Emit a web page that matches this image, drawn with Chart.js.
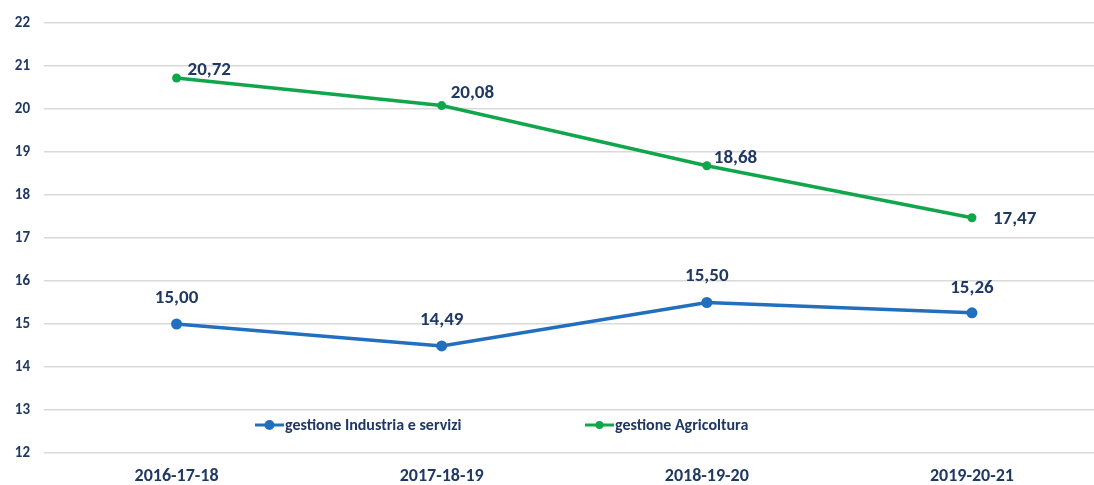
<!DOCTYPE html>
<html>
<head>
<meta charset="utf-8">
<script src="https://cdn.jsdelivr.net/npm/chart.js@4/dist/chart.umd.min.js"></script>
<style>
  html, body { margin: 0; padding: 0; background: #fff; overflow: hidden; }
  #wrap { width: 1110px; height: 485px; }
</style>
</head>
<body>
<div id="wrap"><canvas id="trend"></canvas></div>
<script>
const anni = ['2016-17-18', '2017-18-19', '2018-19-20', '2019-20-21'];
const industria = [15.00, 14.49, 15.50, 15.26];
const agricoltura = [20.72, 20.08, 18.68, 17.47];
const yTicks = [12, 13, 14, 15, 16, 17, 18, 19, 20, 21, 22];

const navy = '#1f3864';
const fontFam = "Carlito, 'Liberation Sans Narrow', Lato, sans-serif";
const fmt = (v) => v.toFixed(2).replace('.', ',');

// label placement per dataset: [dx, dy, align]
const labelPos = [
  [[0, -26, 'center'], [0, -26, 'center'], [0, -26, 'center'], [0, -25, 'center']],
  [[11, -8, 'left'], [9, -12, 'left'], [7, -8, 'left'], [21, 1, 'left']],
];

const pointLabels = {
  id: 'pointLabels',
  afterDatasetsDraw(chart) {
    const { ctx } = chart;
    ctx.save();
    ctx.font = `bold 19px ${fontFam}`;
    ctx.fillStyle = navy;
    ctx.textBaseline = 'middle';
    chart.data.datasets.forEach((ds, i) => {
      chart.getDatasetMeta(i).data.forEach((pt, j) => {
        const [dx, dy, align] = labelPos[i][j];
        ctx.textAlign = align;
        ctx.fillText(fmt(ds.data[j]), pt.x + dx, pt.y + dy);
      });
    });
    ctx.restore();
  },
};

const innerLegend = {
  id: 'innerLegend',
  afterDatasetsDraw(chart) {
    const { ctx } = chart;
    const y = 425;
    const starts = [255, 585];
    ctx.save();
    ctx.font = `bold 16px ${fontFam}`;
    ctx.textBaseline = 'middle';
    ctx.textAlign = 'left';
    chart.data.datasets.forEach((ds, i) => {
      const x = starts[i];
      ctx.strokeStyle = ds.borderColor;
      ctx.lineWidth = 3;
      ctx.beginPath();
      ctx.moveTo(x, y);
      ctx.lineTo(x + 29, y);
      ctx.stroke();
      ctx.fillStyle = ds.borderColor;
      ctx.beginPath();
      ctx.arc(x + 14.5, y, i === 0 ? 5 : 4, 0, Math.PI * 2);
      ctx.fill();
      ctx.fillStyle = navy;
      ctx.fillText(ds.label, x + 30, y + 1);
    });
    ctx.restore();
  },
};

new Chart(document.getElementById('trend'), {
  type: 'line',
  data: {
    labels: anni,
    datasets: [
      {
        label: 'gestione Industria e servizi',
        data: industria,
        borderColor: '#226fbd',
        backgroundColor: '#226fbd',
        borderWidth: 3.5,
        pointRadius: 5.5,
        pointBorderWidth: 0,
      },
      {
        label: 'gestione Agricoltura',
        data: agricoltura,
        borderColor: '#12a64c',
        backgroundColor: '#12a64c',
        borderWidth: 3.5,
        pointRadius: 4.5,
        pointBorderWidth: 0,
      },
    ],
  },
  options: {
    responsive: true,
    maintainAspectRatio: false,
    animation: false,
    layout: { padding: { top: 19, right: 2, left: 0, bottom: 0 } },
    scales: {
      x: {
        offset: true,
        grid: { display: false, drawTicks: false },
        border: { display: false },
        ticks: { color: navy, font: { family: fontFam, size: 18, weight: 'bold' }, padding: 13 },
        afterFit: (scale) => { scale.height = 32; },
      },
      y: {
        min: 12,
        max: 22,
        afterBuildTicks: (scale) => { scale.ticks = yTicks.map((v) => ({ value: v })); },
        grid: { color: '#d9d9d9', lineWidth: 1.5, drawTicks: false },
        border: { display: false },
        ticks: { color: navy, font: { family: fontFam, size: 15, weight: 'bold' }, padding: 14 },
        afterFit: (scale) => { scale.width = 44; },
      },
    },
    plugins: {
      legend: { display: false },
      tooltip: { enabled: false },
    },
  },
  plugins: [pointLabels, innerLegend],
});
</script>
</body>
</html>
